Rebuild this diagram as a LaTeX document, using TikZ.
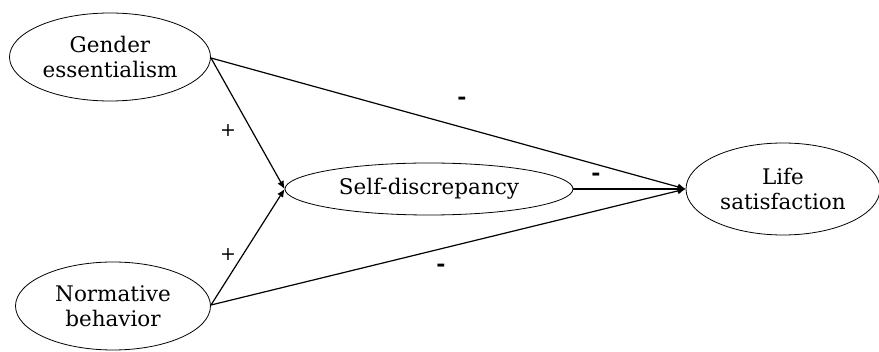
\documentclass[tikz,border=0pt]{standalone}
\usepackage{fontspec}
\setmainfont{DejaVu Serif}
\usetikzlibrary{shapes.geometric,arrows.meta}
\begin{document}
\begin{tikzpicture}[x=1pt,y=-1pt,
  var/.style={draw,line width=0.8pt,ellipse,inner sep=0pt,align=center,font=\fontsize{21.5}{25}\selectfont},
  path/.style={draw,line width=1.2pt,-{Latex[length=8pt,width=7pt]}},
  sign/.style={font=\fontsize{22}{22}\selectfont\bfseries},
  plus/.style={font=\fontsize{19}{19}\selectfont}]
\useasboundingbox (0,0) rectangle (879,352);
\node[var,minimum width=201pt,minimum height=88pt] (ge) at (110,57) {Gender\\essentialism};
\node[var,minimum width=195pt,minimum height=88pt] (nb) at (113,306) {Normative\\behavior};
\node[var,minimum width=288pt,minimum height=52pt] (sd) at (429,189) {Self-discrepancy};
\node[var,minimum width=194pt,minimum height=92pt] (ls) at (783,189) {Life\\satisfaction};
\coordinate (geE) at (211,58);
\coordinate (nbE) at (211,305);
\draw[path] (geE) -- (ls.west);
\draw[path] (geE) -- (sd.west);
\draw[path] (nbE) -- (sd.west);
\draw[path] (nbE) -- (ls.west);
\draw[path] (sd.east) -- (ls.west);
\node[sign] (m1) at (462,101) {-};
\node[sign] (m2) at (596,177) {-};
\node[sign] (m3) at (441,268) {-};
\node[plus] (p1) at (228,131) {+};
\node[plus] (p2) at (228,255) {+};
\end{tikzpicture}
\end{document}
